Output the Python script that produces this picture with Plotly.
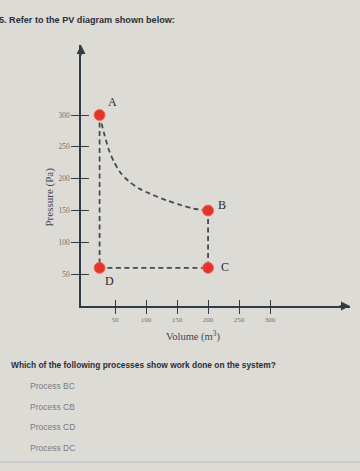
import plotly.graph_objects as go

# ---- data ----
curve_volume = [25, 32, 40, 48, 59, 72, 88, 105, 133, 155, 176, 200]
curve_pressure = [300, 272, 245, 227, 209, 196, 185, 177, 166, 159, 153, 150]
point_labels = ["A", "B", "C", "D"]
point_volume = [25, 200, 200, 25]
point_pressure = [300, 150, 60, 60]
tick_values = [50, 100, 150, 200, 250, 300]
tick_text = ["50", "100", "150", "200", "250", "300"]
options = ["Process BC", "Process CB", "Process CD", "Process DC"]

# ---- geometry (pixels of the 360x471 page) ----
W, H = 360, 471
L, R, T, B = 81, 350, 45, 306
XR = [-5, 429]
YR = [0, 410]

def px(xp, yp):
    return (xp - L) / (R - L), (B - yp) / (B - T)

BG = "#dcdbd6"
LINE = "#4a4a4e"
AXIS = "#333a48"
RED = "#e3332b"
SERIF = "Liberation Serif, DejaVu Serif, serif"
SANS = "Liberation Sans, Arial, sans-serif"

fig = go.Figure()

dash = "5px,3.5px"
# A -> B curve
fig.add_trace(go.Scatter(x=curve_volume, y=curve_pressure, mode="lines",
                         line=dict(color=LINE, width=1.8, dash=dash, shape="spline", smoothing=0.8),
                         hoverinfo="skip", showlegend=False))
# B -> C, C -> D, D -> A
order = [1, 2, 3, 0]
fig.add_trace(go.Scatter(x=[point_volume[i] for i in order],
                         y=[point_pressure[i] for i in order], mode="lines",
                         line=dict(color=LINE, width=1.8, dash=dash),
                         hoverinfo="skip", showlegend=False))
# points
fig.add_trace(go.Scatter(x=point_volume, y=point_pressure, mode="markers",
                         marker=dict(color=RED, size=11, line=dict(color="#ef6a60", width=1)),
                         hoverinfo="skip", showlegend=False, cliponaxis=False))
# empty trace for overlay axes (inside ticks)
fig.add_trace(go.Scatter(x=[None], y=[None], xaxis="x2", yaxis="y2",
                         showlegend=False, hoverinfo="skip"))

shifts = {"A": (13, 13), "B": (14, 6), "C": (17, 1), "D": (10, -13)}
for lab, v, p in zip(point_labels, point_volume, point_pressure):
    dx, dy = shifts[lab]
    fig.add_annotation(x=v, y=p, text=lab, showarrow=False, xshift=dx, yshift=dy,
                       font=dict(family=SERIF, size=12, color="#262833"))

common_x = dict(range=XR, tickvals=tick_values, showgrid=False, zeroline=False,
                tickcolor=AXIS, tickwidth=1.3, ticklen=6)
common_y = dict(range=YR, tickvals=tick_values, showgrid=False, zeroline=False,
                tickcolor=AXIS, tickwidth=1.3, ticklen=8)

fig.update_layout(
    width=W, height=H,
    margin=dict(l=L, r=W - R, t=T, b=H - B),
    paper_bgcolor=BG, plot_bgcolor=BG,
    xaxis=dict(**common_x, ticks="outside", ticktext=tick_text, showline=True,
               linecolor=AXIS, linewidth=1.5,
               tickfont=dict(family=SERIF, size=7, color="#707278")),
    yaxis=dict(**common_y, ticks="outside", ticktext=tick_text, showline=True,
               linecolor=AXIS, linewidth=1.5,
               tickfont=dict(family=SERIF, size=7.5, color="#707278")),
    xaxis2=dict(**common_x, ticks="inside", overlaying="x", anchor="y2",
                showticklabels=False, showline=False),
    yaxis2=dict(**common_y, ticks="inside", overlaying="y", anchor="x2",
                showticklabels=False, showline=False),
)

# axis arrows
fig.add_annotation(xref="paper", yref="paper", x=0, y=1, ax=0, ay=12, text="",
                   showarrow=True, arrowhead=2, arrowsize=1.2, arrowwidth=1.5,
                   arrowcolor=AXIS)
fig.add_annotation(xref="paper", yref="paper", x=1, y=0, ax=-12, ay=0, text="",
                   showarrow=True, arrowhead=2, arrowsize=1.2, arrowwidth=1.5,
                   arrowcolor=AXIS)

# axis titles
x0, y0 = px(40, 197)
fig.add_annotation(xref="paper", yref="paper", x=x0, y=y0, text="Pressure (Pa)",
                   textangle=-90, showarrow=False,
                   font=dict(family=SERIF, size=11, color="#3e4556"))
x0, y0 = px(193, 345)
fig.add_annotation(xref="paper", yref="paper", x=x0, y=y0, text="Volume (m<sup>3</sup>)",
                   showarrow=False, font=dict(family=SERIF, size=10.5, color="#3e4556"))

# page texts
x0, y0 = px(-3, 13)
fig.add_annotation(xref="paper", yref="paper", x=x0, y=y0, xanchor="left",
                   text="<b>5. Refer to the PV diagram shown below:</b>", showarrow=False,
                   font=dict(family=SANS, size=9.1, color="#2b2e36"))
x0, y0 = px(9, 372)
fig.add_annotation(xref="paper", yref="paper", x=x0, y=y0, xanchor="left",
                   text="<b>Which of the following processes show work done on the system?</b>",
                   showarrow=False, font=dict(family=SANS, size=8.4, color="#2b2e36"))
for i, opt in enumerate(options):
    x0, y0 = px(28, 393 + i * 20.7)
    fig.add_annotation(xref="paper", yref="paper", x=x0, y=y0, xanchor="left",
                       text=opt, showarrow=False,
                       font=dict(family=SANS, size=8.5, color="#7a7c84"))

fig.add_shape(type="line", xref="paper", yref="paper",
              x0=px(0, 462)[0], x1=px(360, 462)[0], y0=px(0, 462)[1], y1=px(0, 462)[1],
              line=dict(color="#c3c6cc", width=1.5))

fig.write_html("out.html")
